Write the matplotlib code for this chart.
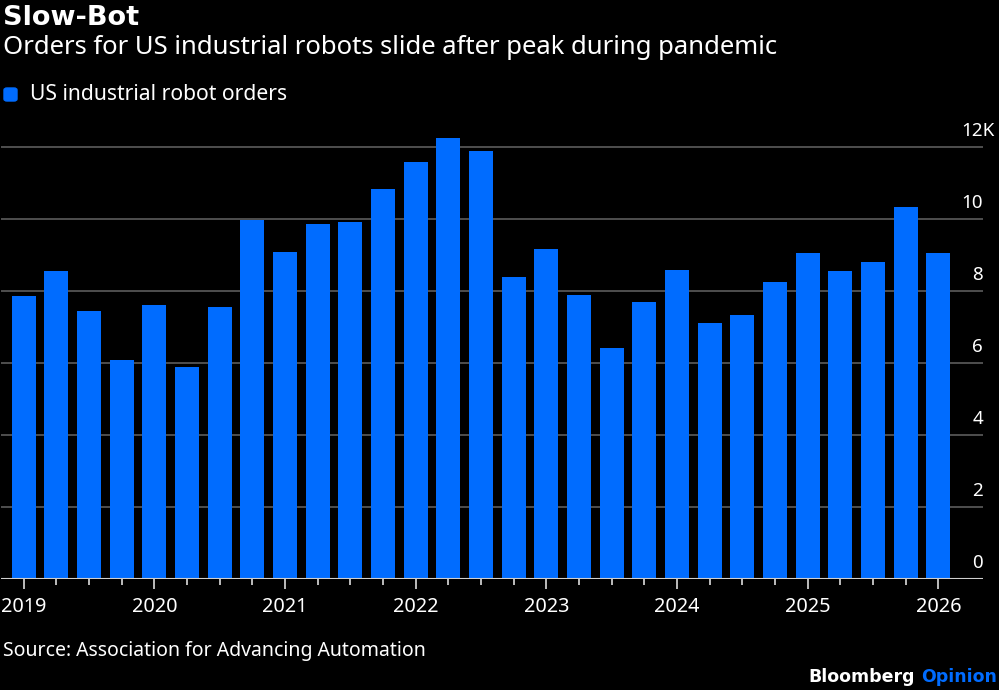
import matplotlib.pyplot as plt
from matplotlib.patches import FancyBboxPatch
from matplotlib.transforms import blended_transform_factory, offset_copy

# quarterly orders, thousands of units (2019 Q1 .. 2026 Q1)
quarters = ['2019 Q1', '2019 Q2', '2019 Q3', '2019 Q4',
            '2020 Q1', '2020 Q2', '2020 Q3', '2020 Q4',
            '2021 Q1', '2021 Q2', '2021 Q3', '2021 Q4',
            '2022 Q1', '2022 Q2', '2022 Q3', '2022 Q4',
            '2023 Q1', '2023 Q2', '2023 Q3', '2023 Q4',
            '2024 Q1', '2024 Q2', '2024 Q3', '2024 Q4',
            '2025 Q1', '2025 Q2', '2025 Q3', '2025 Q4',
            '2026 Q1']
orders = [7.87, 8.56, 7.44, 6.08,
          7.60, 5.90, 7.55, 9.96,
          9.09, 9.85, 9.92, 10.82,
          11.59, 12.26, 11.89, 8.38,
          9.16, 7.88, 6.41, 7.69,
          8.58, 7.11, 7.32, 8.26,
          9.05, 8.56, 8.81, 10.32,
          9.05]
y_ticks = [0, 2, 4, 6, 8, 10, 12]
y_labels = ['0', '2', '4', '6', '8', '10', '12K']

W, H = 999, 690
BLUE = '#006cff'
font = 'Noto Sans'
bold_font = 'DejaVu Sans'

fig = plt.figure(figsize=(W / 100, H / 100), dpi=100, facecolor='black')
ax = fig.add_axes([1 / W, (H - 579) / H, 982 / W, 459 / H])
ax.set_facecolor('black')

x = list(range(len(orders)))
ax.bar(x, orders, width=0.735, color=BLUE, zorder=2)

ax.set_xlim(-0.695, 29.365)
ax.set_ylim(0, 12.75)

# gridlines
for v in y_ticks[1:]:
    ax.axhline(v, color='#555555', linewidth=1.3, zorder=1)
ax.axhline(0, color='#cfcfcf', linewidth=1.5, zorder=3)

for s in ax.spines.values():
    s.set_visible(False)

# x ticks: every quarter, labels on Q1
ax.set_xticks(x)
ax.set_xticklabels([q[:4] if q.endswith('Q1') else '' for q in quarters])
ax.tick_params(axis='x', colors='#dddddd', length=4, width=1.2, pad=9,
               labelsize=14.3, labelcolor='white')
for i, t in enumerate(ax.xaxis.get_major_ticks()):
    if i % 4 == 0:
        t.tick1line.set_markersize(7)
for lbl in ax.get_xticklabels():
    lbl.set_fontfamily(font)
ax.set_yticks([])

# y labels on right, above the gridlines ("K" hangs past the right edge)
base = blended_transform_factory(ax.transAxes, ax.transData)
for v, lab in zip(y_ticks, y_labels):
    dx = 8 if lab.endswith('K') else 0
    tr = offset_copy(base, fig=fig, x=dx, y=8, units='points')
    ax.text(1.0, v, lab, transform=tr, ha='right', va='baseline',
            color='white', fontsize=13.5, family=font)

# titles
fig.text(3 / W, 1 - 18 / H, 'Slow-Bot', color='white', fontsize=19.5,
         fontweight='bold', family=bold_font, va='center', ha='left')
fig.text(3 / W, 1 - 48 / H, 'Orders for US industrial robots slide after peak during pandemic',
         color='white', fontsize=18.5, family=font, va='center', ha='left')

# legend
fig.patches.append(FancyBboxPatch((4 / W, 1 - 101 / H), 13 / W, 13 / H,
                                  boxstyle='round,pad=0,rounding_size=0.003',
                                  transform=fig.transFigure, color=BLUE))
fig.text(30 / W, 1 - 94 / H, 'US industrial robot orders', color='white',
         fontsize=15.2, family=font, va='center', ha='left')

# footer
fig.text(3 / W, 1 - 651 / H, 'Source: Association for Advancing Automation',
         color='white', fontsize=14, family=font, va='center', ha='left')
t1 = fig.text(997 / W, 1 - 677 / H, 'Opinion', color=BLUE, fontsize=12.5,
              fontweight='bold', family=bold_font, va='center', ha='right')
fig.canvas.draw()
bb = t1.get_window_extent()
fig.text((bb.x0 - 6) / W, 1 - 677 / H, 'Bloomberg', color='white', fontsize=12.5,
         fontweight='bold', family=bold_font, va='center', ha='right')

fig.savefig('out.png', dpi=100, facecolor='black')
